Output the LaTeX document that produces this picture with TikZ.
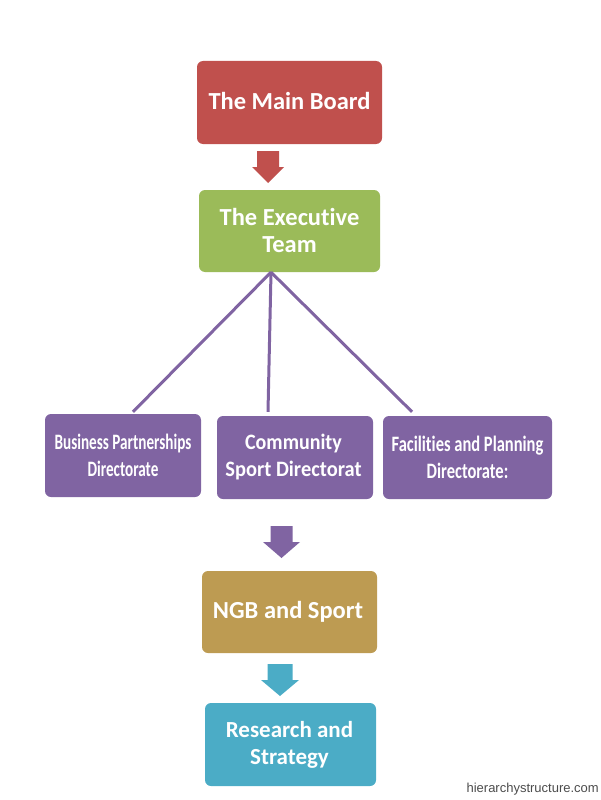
\documentclass[tikz,border=0pt]{standalone}
\usepackage{fontspec}
\setmainfont[Ligatures=NoCommon]{Carlito}
\newfontfamily\markfont{Liberation Sans}
\usetikzlibrary{calc}
\definecolor{boardred}{HTML}{C0504D}
\definecolor{teamgreen}{HTML}{9BBB59}
\definecolor{dirpurple}{HTML}{8064A2}
\definecolor{sporttan}{HTML}{BD9B52}
\definecolor{researchblue}{HTML}{4BACC6}
\tikzset{
	box/.style={rounded corners=6, inner sep=0, text=white, align=center, font=\bfseries\fontsize{24.5}{26.5}\selectfont},
	narrowbox/.style={box, fill=dirpurple, font=\bfseries\fontsize{22}{27}\selectfont},
	link/.style={line width=3, color=dirpurple}
}
\def\blockarrow[#1](#2,#3)(#4,#5){\fill[#1] (#2-#4, #3) -- (#2+#4, #3) -- (#2+#4, #3+16) -- (#2+#5, #3+16) -- (#2, #3+32) -- (#2-#5, #3+16) -- (#2-#4, #3+16) -- cycle;}

\begin{document}
\begin{tikzpicture}[x=1pt, y=-1pt]
	\useasboundingbox (0, 0) rectangle (600, 800);

	\node[box, fill=boardred, minimum width=185, minimum height=83] (board) at (289.5, 102.5) {\raisebox{4pt}{The Main Board}};
	\node[box, fill=teamgreen, minimum width=181, minimum height=82] (team) at (289.5, 231) {\raisebox{1pt}{The Executive}\\\raisebox{1pt}{Team}};

	\node[narrowbox, minimum width=156, minimum height=83] (business) at (123, 455.5) {\scalebox{0.69}[1]{Business Partnerships}\\\scalebox{0.69}[1]{Directorate}};
	\node[narrowbox, minimum width=156, minimum height=83] (community) at (295, 457.5) {\hspace*{-3pt}\scalebox{0.91}[1]{Community}\\\hspace*{-3pt}\scalebox{0.93}[1]{Sport Directorat}};
	\node[narrowbox, minimum width=169, minimum height=83] (facilities) at (467.5, 457.5) {\scalebox{0.75}[1]{Facilities and Planning}\\\scalebox{0.75}[1]{Directorate:}};

	\node[box, fill=sporttan, minimum width=175, minimum height=82] (sport) at (289.5, 612) {\hspace*{-3pt}NGB and Sport};
	\node[box, fill=researchblue, minimum width=171, minimum height=83, font=\bfseries\fontsize{23}{27}\selectfont] (research) at (290.5, 744.5) {\hspace*{-2pt}Research and\\\hspace*{-2pt}Strategy};

	\draw[link] ($(team.south)+(-18.5, 0)$) -- ($(business.north)+(10, -2)$);
	\draw[link] ($(team.south)+(-18.5, 0)$) -- ($(community.north)+(-27, -4)$);
	\draw[link] ($(team.south)+(-18.5, 0)$) -- ($(facilities.north)+(-55.5, -4)$);

	\blockarrow[boardred](268, 151)(11, 16);
	\blockarrow[dirpurple](281.5, 526)(11, 18.5);
	\blockarrow[researchblue](280, 664)(12.5, 19);

	\node[text=black!70, inner sep=0, anchor=east, font=\markfont\fontsize{13}{15}\selectfont] (site) at (599, 789) {hierarchystructure.com};
\end{tikzpicture}
\end{document}
